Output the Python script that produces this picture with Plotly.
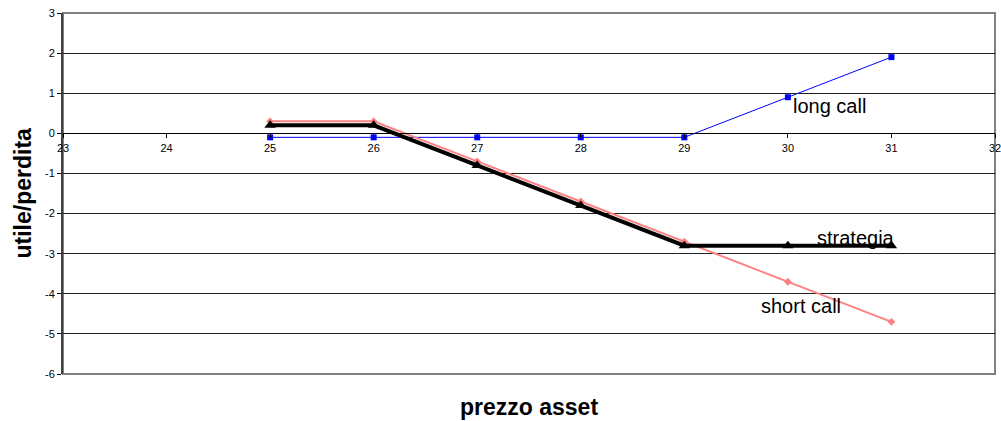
import plotly.graph_objects as go

# Prezzo del sottostante a scadenza
prezzo = [25, 26, 27, 28, 29, 30, 31]

# Profitto/perdita delle singole posizioni e della strategia combinata
long_call = [-0.1, -0.1, -0.1, -0.1, -0.1, 0.9, 1.9]
short_call = [0.3, 0.3, -0.7, -1.7, -2.7, -3.7, -4.7]
strategia = [0.2, 0.2, -0.8, -1.8, -2.8, -2.8, -2.8]

x_ticks = list(range(23, 33))
y_ticks = list(range(-6, 4))

FONT = "Arial, Liberation Sans, sans-serif"

fig = go.Figure()

fig.add_trace(go.Scatter(
    x=prezzo, y=long_call, name="long call", mode="lines+markers",
    line=dict(color="#0000FF", width=1),
    marker=dict(symbol="square", size=6, color="#0000FF"),
))
fig.add_trace(go.Scatter(
    x=prezzo, y=short_call, name="short call", mode="lines+markers",
    line=dict(color="#FF8080", width=2),
    marker=dict(symbol="diamond", size=6, color="#FF8080"),
))
fig.add_trace(go.Scatter(
    x=prezzo, y=strategia, name="strategia", mode="lines+markers",
    line=dict(color="#000000", width=4),
    marker=dict(symbol="triangle-up", size=10, color="#000000"),
))

# Etichette delle serie
label_font = dict(family=FONT, size=20, color="#000000")
fig.add_annotation(x=30.03, y=0.68, text="long call", showarrow=False,
                   xanchor="left", yanchor="middle", font=label_font)
fig.add_annotation(x=30.26, y=-2.62, text="strategia", showarrow=False,
                   xanchor="left", yanchor="middle", font=label_font)
fig.add_annotation(x=29.72, y=-4.3, text="short call", showarrow=False,
                   xanchor="left", yanchor="middle", font=label_font)

# Titoli degli assi
title_font = dict(family=FONT, size=23, color="#000000")
fig.add_annotation(xref="paper", yref="paper", x=0.5, y=0, yshift=-33,
                   text="<b>prezzo asset</b>", showarrow=False,
                   xanchor="center", yanchor="middle", font=title_font)
fig.add_annotation(xref="paper", yref="paper", x=0, y=0.5, xshift=-41,
                   text="<b>utile/perdita</b>", showarrow=False, textangle=-90,
                   xanchor="center", yanchor="middle", font=title_font)

# Bordo dell'area del grafico
fig.add_shape(type="rect", xref="paper", yref="paper", x0=0, x1=1, y0=0, y1=1,
              line=dict(color="#808080", width=2), layer="below")

fig.update_layout(
    width=1001, height=421,
    margin=dict(l=63, r=6, t=13, b=47, autoexpand=False),
    paper_bgcolor="white", plot_bgcolor="white",
    showlegend=False,
    font=dict(family=FONT, size=11, color="#000000"),
)

fig.update_xaxes(
    range=[23, 32], tickvals=x_ticks, ticktext=[str(v) for v in x_ticks],
    anchor="free", position=6 / 9, automargin=False,
    showline=True, linecolor="#000000", linewidth=1,
    ticks="outside", ticklen=4, tickcolor="#000000",
    showgrid=False, zeroline=False,
    ticklabeloverflow="allow",
    tickfont=dict(family=FONT, size=11),
)
fig.update_yaxes(
    range=[-6, 3], tickvals=y_ticks, ticktext=[str(v) for v in y_ticks],
    automargin=False,
    showline=True, linecolor="#404040", linewidth=2,
    ticks="outside", ticklen=4, tickcolor="#000000",
    showgrid=True, gridcolor="#202020", gridwidth=1,
    zeroline=False,
    tickfont=dict(family=FONT, size=11),
)

fig.write_html("out.html")
